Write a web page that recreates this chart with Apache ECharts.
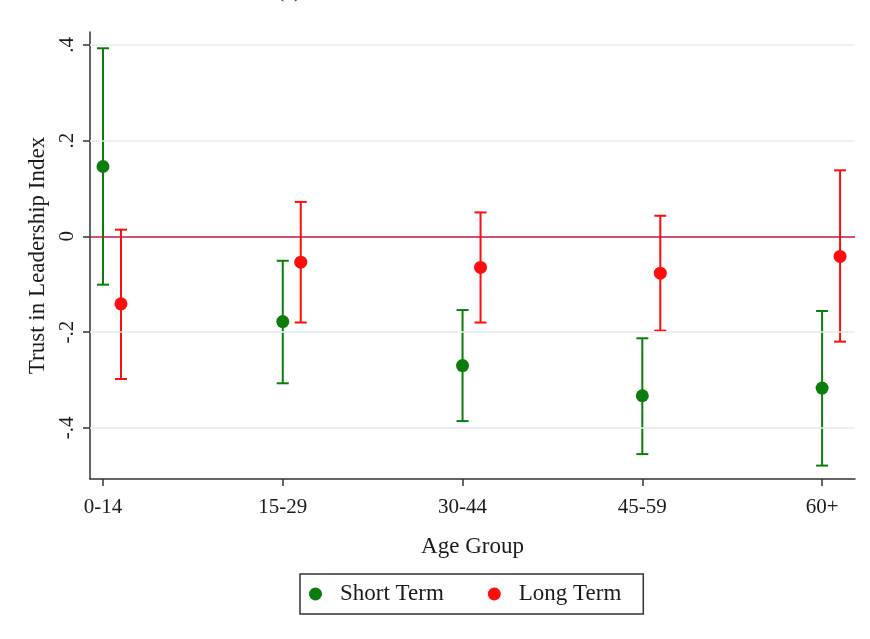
<!DOCTYPE html>
<html>
<head>
<meta charset="utf-8">
<script src="https://cdn.jsdelivr.net/npm/echarts@6/dist/echarts.min.js"></script>
<style>html,body{margin:0;padding:0;background:#fff}#c{width:870px;height:639px}</style>
</head>
<body>
<div id="c"></div>
<script>
const categories = ['0-14', '15-29', '30-44', '45-59', '60+'];
const shortEst  = [0.146, -0.178, -0.270, -0.333, -0.317];
const shortLow  = [-0.101, -0.307, -0.386, -0.455, -0.479];
const shortHigh = [0.393, -0.051, -0.154, -0.213, -0.156];
const longEst   = [-0.141, -0.054, -0.065, -0.077, -0.042];
const longLow   = [-0.298, -0.180, -0.180, -0.197, -0.220];
const longHigh  = [0.014, 0.072, 0.050, 0.043, 0.138];
const yTicks = [-0.4, -0.2, 0, 0.2, 0.4];
const yTickLabels = ['-.4', '-.2', '0', '.2', '.4'];
const longOffset = 0.1;

const FONT = '"Liberation Serif", "DejaVu Serif", serif';
const GREEN = '#0a7d0c';
const RED = '#ff0d0d';
const TXT = '#1a1a1a';

const xIdx = categories.map((c, i) => i);
const shortPts = xIdx.map(i => [i, shortEst[i]]);
const longPts = xIdx.map(i => [i + longOffset, longEst[i]]);
const shortCI = xIdx.map(i => [i, shortLow[i], shortHigh[i]]);
const longCI = xIdx.map(i => [i + longOffset, longLow[i], longHigh[i]]);

function ciRender(color) {
  return function (params, api) {
    const x = api.value(0), lo = api.value(1), hi = api.value(2);
    const a = api.coord([x, lo]), b = api.coord([x, hi]);
    const w = 6;
    const st = { stroke: color, lineWidth: 2 };
    return {
      type: 'group',
      children: [
        { type: 'line', shape: { x1: a[0], y1: a[1], x2: b[0], y2: b[1] }, style: st },
        { type: 'line', shape: { x1: a[0] - w, y1: a[1], x2: a[0] + w, y2: a[1] }, style: st },
        { type: 'line', shape: { x1: b[0] - w, y1: b[1], x2: b[0] + w, y2: b[1] }, style: st }
      ]
    };
  };
}

const chart = echarts.init(document.getElementById('c'), null, { renderer: 'canvas' });
chart.setOption({
  animation: false,
  backgroundColor: '#fff',
  title: {
    text: '(a)', left: 272, top: -25,
    textStyle: { fontFamily: FONT, fontSize: 22, fontWeight: 'normal', color: TXT }
  },
  grid: { left: 90, right: 15, top: 32, bottom: 160 },
  xAxis: {
    type: 'value', min: -0.0723, max: 4.183,
    name: 'Age Group', nameLocation: 'middle', nameGap: 56,
    nameTextStyle: { fontFamily: FONT, fontSize: 23, color: TXT },
    axisLine: { show: true, onZero: false, lineStyle: { color: '#333', width: 1.5 } },
    axisTick: { show: true, length: 7, customValues: xIdx, lineStyle: { color: '#333', width: 1.5 } },
    axisLabel: {
      customValues: xIdx, margin: 18,
      formatter: v => categories[Math.round(v)],
      fontFamily: FONT, fontSize: 21, color: TXT
    },
    splitLine: { show: false }
  },
  yAxis: {
    type: 'value', min: -0.507, max: 0.427,
    name: 'Trust in Leadership Index', nameLocation: 'middle', nameGap: 36,
    nameTextStyle: { fontFamily: FONT, fontSize: 23, color: TXT },
    axisLine: { show: true, onZero: false, lineStyle: { color: '#333', width: 1.5 } },
    axisTick: { show: true, length: 7, customValues: yTicks, lineStyle: { color: '#333', width: 1.5 } },
    axisLabel: {
      customValues: yTicks, rotate: 90, margin: 12,
      formatter: v => yTickLabels[yTicks.findIndex(t => Math.abs(t - v) < 1e-6)],
      fontFamily: FONT, fontSize: 21, color: TXT
    },
    splitLine: { show: false }
  },
  legend: {
    data: ['Short Term', 'Long Term'],
    left: 300, top: 574,
    orient: 'horizontal',
    icon: 'circle', itemWidth: 13, itemHeight: 13, itemGap: 44,
    padding: [8, 22, 8, 9],
    borderColor: '#333', borderWidth: 1.5,
    textStyle: { fontFamily: FONT, fontSize: 23, color: TXT, lineHeight: 24, padding: [0, 0, 0, 13] }
  },
  series: [
    {
      name: 'grid', type: 'line', data: [], silent: true, z: 1,
      markLine: {
        silent: true, symbol: 'none', label: { show: false },
        data: yTicks.filter(t => t !== 0).map(t => ({ yAxis: t, lineStyle: { color: '#e4edef', width: 1.5, type: 'solid' } }))
          .concat([{ yAxis: 0, lineStyle: { color: '#c8143c', width: 1.5, type: 'solid' } }])
      }
    },
    { name: 'Short Term CI', type: 'custom', renderItem: ciRender(GREEN), data: shortCI, z: 3, encode: { x: 0, y: [1, 2] } },
    { name: 'Long Term CI', type: 'custom', renderItem: ciRender(RED), data: longCI, z: 3, encode: { x: 0, y: [1, 2] } },
    { name: 'Short Term', type: 'scatter', data: shortPts, symbol: 'circle', symbolSize: 13, itemStyle: { color: GREEN, opacity: 1 }, z: 4 },
    { name: 'Long Term', type: 'scatter', data: longPts, symbol: 'circle', symbolSize: 13, itemStyle: { color: RED, opacity: 1 }, z: 4 }
  ]
});
</script>
</body>
</html>
